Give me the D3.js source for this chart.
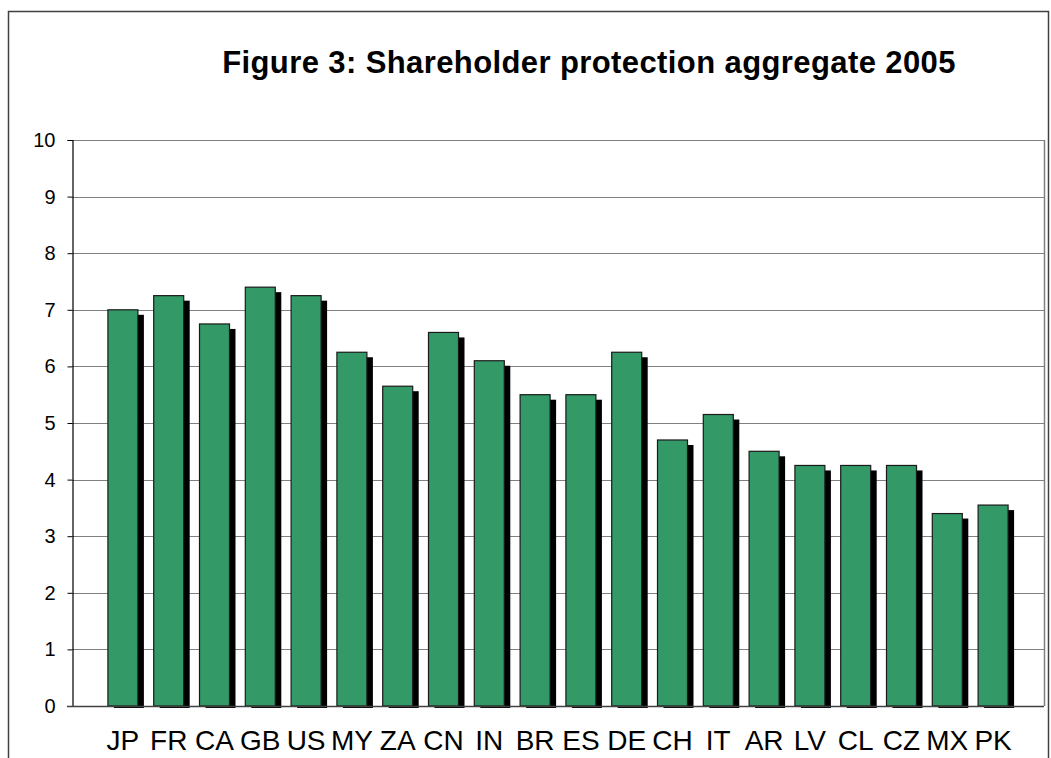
<!DOCTYPE html>
<html>
<head>
<meta charset="utf-8">
<script src="https://cdn.jsdelivr.net/npm/d3@7"></script>
<style>
  body { margin: 0; background: #fff; }
  svg { display: block; font-family: Arial, "Liberation Sans", sans-serif; }
</style>
</head>
<body>
<div id="chart"></div>
<script>
// Chart data
const countries = ['JP', 'FR', 'CA', 'GB', 'US', 'MY', 'ZA', 'CN', 'IN', 'BR',
                   'ES', 'DE', 'CH', 'IT', 'AR', 'LV', 'CL', 'CZ', 'MX', 'PK'];
const scores = [7.0, 7.25, 6.75, 7.4, 7.25, 6.25, 5.65, 6.6, 6.1, 5.5,
                5.5, 6.25, 4.7, 5.15, 4.5, 4.25, 4.25, 4.25, 3.4, 3.55];
const yTicks = [0, 1, 2, 3, 4, 5, 6, 7, 8, 9, 10];
const title = 'Figure 3: Shareholder protection aggregate 2005';

const width = 1051;
const height = 758;

// Plot area
const plot = { left: 72, right: 1044, top: 140, bottom: 706 };

const svg = d3.select('#chart')
    .append('svg')
    .attr('width', width)
    .attr('height', height);

svg.append('rect')
    .attr('width', width)
    .attr('height', height)
    .attr('fill', '#fff');

// Outer chart border
svg.append('rect')
    .attr('x', 8.5)
    .attr('y', 11.5)
    .attr('width', 1040)
    .attr('height', 800)
    .attr('fill', 'none')
    .attr('stroke', '#404040')
    .attr('stroke-width', 1.5);

// Title
svg.append('text')
    .attr('x', 589)
    .attr('y', 73)
    .attr('text-anchor', 'middle')
    .attr('font-size', 31)
    .attr('font-weight', 'bold')
    .attr('letter-spacing', 0.4)
    .attr('fill', '#000')
    .text(title);

const y = d3.scaleLinear()
    .domain([0, 10])
    .range([plot.bottom, plot.top]);

const x = d3.scaleBand()
    .domain(countries)
    .range([100, 1016])
    .paddingInner(0.345)
    .paddingOuter(0.1725);

// Gridlines
svg.append('g')
    .selectAll('line')
    .data(yTicks.filter(d => d > 0))
    .join('line')
    .attr('x1', plot.left)
    .attr('x2', plot.right)
    .attr('y1', d => Math.round(y(d)) + 0.5)
    .attr('y2', d => Math.round(y(d)) + 0.5)
    .attr('stroke', '#808080')
    .attr('stroke-width', 1);

// Right border of plot area
svg.append('line')
    .attr('x1', plot.right + 0.5)
    .attr('x2', plot.right + 0.5)
    .attr('y1', plot.top)
    .attr('y2', plot.bottom)
    .attr('stroke', '#808080')
    .attr('stroke-width', 1.5);

// Bar shadows
svg.append('g')
    .selectAll('rect')
    .data(countries)
    .join('rect')
    .attr('x', d => x(d) + 6)
    .attr('y', (d, i) => y(scores[i]) + 5)
    .attr('width', x.bandwidth())
    .attr('height', (d, i) => plot.bottom + 2 - y(scores[i]) - 5)
    .attr('fill', '#000');

// Bars
svg.append('g')
    .selectAll('rect')
    .data(countries)
    .join('rect')
    .attr('x', d => x(d))
    .attr('y', (d, i) => y(scores[i]))
    .attr('width', x.bandwidth())
    .attr('height', (d, i) => plot.bottom - y(scores[i]))
    .attr('fill', '#339966')
    .attr('stroke', '#1a1a1a')
    .attr('stroke-width', 1.2);

// Y axis
const yAxis = svg.append('g')
    .attr('transform', `translate(${plot.left + 0.5},0)`)
    .call(d3.axisLeft(y).tickValues(yTicks).tickSize(5).tickPadding(12).tickFormat(d3.format('d')));
yAxis.select('.domain').attr('stroke', '#000').attr('stroke-width', 1.2);
yAxis.selectAll('.tick line').attr('stroke', '#000');
yAxis.selectAll('.tick text')
    .attr('font-size', 20)
    .attr('font-family', 'Arial, "Liberation Sans", sans-serif')
    .attr('fill', '#000');

// X baseline
svg.append('line')
    .attr('x1', plot.left - 5)
    .attr('x2', plot.right)
    .attr('y1', plot.bottom + 0.5)
    .attr('y2', plot.bottom + 0.5)
    .attr('stroke', '#404040')
    .attr('stroke-width', 1.5);

// Category labels
svg.append('g')
    .selectAll('text')
    .data(countries)
    .join('text')
    .attr('x', d => x(d) + x.bandwidth() / 2)
    .attr('y', 750)
    .attr('text-anchor', 'middle')
    .attr('font-size', 28)
    .attr('fill', '#000')
    .text(d => d);
</script>
</body>
</html>
